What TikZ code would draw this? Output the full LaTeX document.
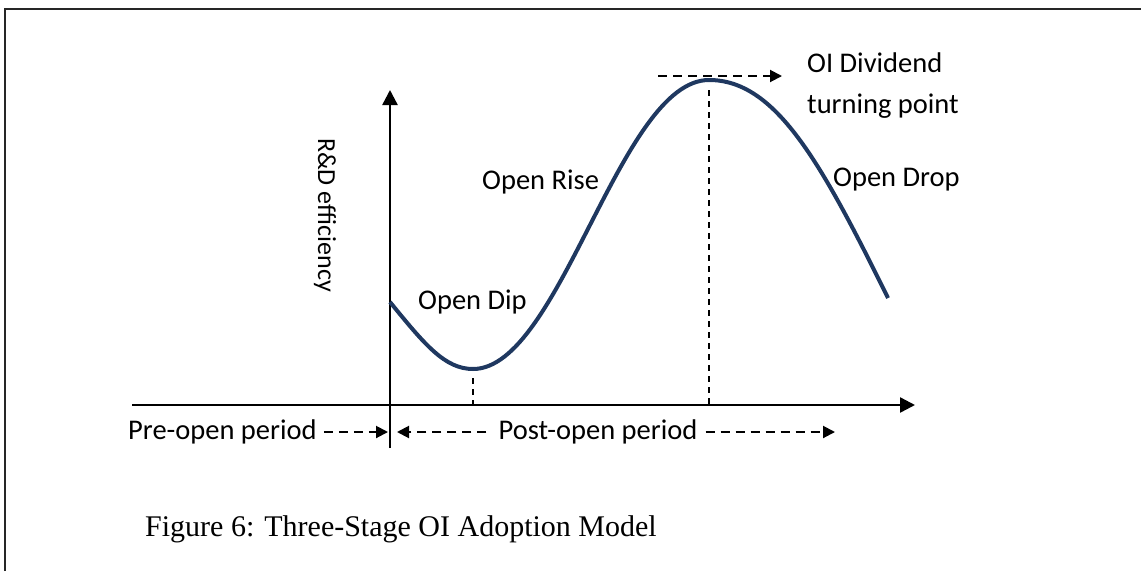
\documentclass[tikz,border=0pt]{standalone}
\usepackage{fontspec}
\setmainfont{Carlito}
\newfontfamily\capfont{Liberation Serif}
\usetikzlibrary{arrows.meta}
\definecolor{curveblue}{RGB}{31,56,96}
\begin{document}
\begin{tikzpicture}[x=1pt, y=-1pt,
    axis/.style={line width=2.4pt, -{Triangle[length=15pt,width=15pt]}},
    darrow/.style={line width=2pt, dash pattern=on 9pt off 6pt, -{Triangle[length=12pt,width=12pt]}},
    guide/.style={line width=1.4pt, dash pattern=on 6pt off 5pt},
    lbl/.style={font=\fontsize{28.5}{41}\selectfont, inner sep=0pt}]
    \useasboundingbox (0,0) rectangle (1141,571);

    % Frame
    \draw[line width=1.6pt, black!85] (5,571) -- (5,9) -- (1141,9);

    % Axes
    \coordinate (o) at (390,405);
    \coordinate (ybot) at (390,448);
    \coordinate (ytop) at (390,90);
    \coordinate (xleft) at (132,405);
    \coordinate (xright) at (915,405);
    \draw[line width=2.4pt] (ybot) -- (o);
    \draw[axis] (o) -- (ytop);
    \draw[axis] (xleft) -- (xright);
    \node[lbl, font=\fontsize{26}{30}\selectfont, rotate=-90] (ylab) at (325,215) {R\&D efficiency};

    % Efficiency curve
    \coordinate (start) at (390,302);
    \coordinate (dip) at (473,369);
    \coordinate (peak) at (709,80);
    \coordinate (stop) at (888,298);
    \draw[curveblue, line width=4pt]
        (start) .. controls (425,345) and (445,369) .. (dip)
                .. controls (560,369) and (620,80) .. (peak)
                .. controls (775,80) and (820,160) .. (stop);

    % Stage labels
    \node[lbl, anchor=west] (diplab) at (418,302) {Open Dip};
    \node[lbl, anchor=west] (riselab) at (482,182) {Open Rise};
    \node[lbl, anchor=west] (droplab) at (833,180) {Open Drop};

    % Turning point
    \draw[guide, shorten <=10pt] (peak) -- (peak |- o);
    \draw[guide, shorten <=9pt] (dip) -- (dip |- o);
    \coordinate (peakleft) at (658,76);
    \coordinate (peakright) at (782,76);
    \draw[darrow] (peakleft) -- (peakright);
    \node[lbl, anchor=west, align=left] (turnlab) at (807,86) {OI Dividend\\turning point};

    % Periods
    \node[lbl, anchor=west, inner sep=7pt] (pre) at (121,432) {Pre-open period};
    \coordinate (preend) at (388,432);
    \draw[darrow] (pre.east) -- (preend);
    \node[lbl, inner sep=8pt] (post) at (598,432) {Post-open period};
    \coordinate (postleft) at (397,432);
    \coordinate (postright) at (835,432);
    \draw[darrow] ([xshift=-4pt]post.west) -- (postleft);
    \draw[darrow] (post.east) -- (postright);

    % Caption
    \node[font=\capfont\fontsize{30}{36}\selectfont, anchor=west, inner sep=0pt] (caption) at (145,529) {Figure 6: Three-Stage OI Adoption Model};
\end{tikzpicture}
\end{document}
